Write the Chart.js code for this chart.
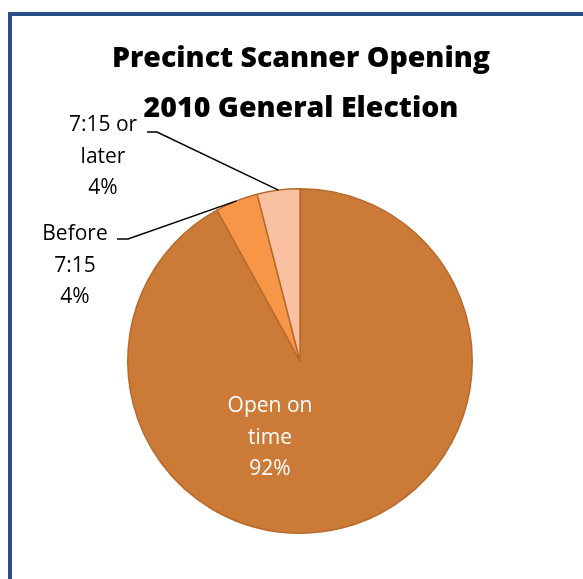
<!DOCTYPE html>
<html>
<head>
<meta charset="utf-8">
<title>Precinct Scanner Opening</title>
<script src="https://cdn.jsdelivr.net/npm/chart.js@4"></script>
<style>
  html, body { margin: 0; padding: 0; background: #fff; overflow: hidden; }
  #wrap { width: 583px; height: 579px; }
</style>
</head>
<body>
<div id="wrap"><canvas id="openingChart" width="583" height="579"></canvas></div>
<script>
// opening times of precinct scanners, share of precincts
const categories = ["Open on time", "Before 7:15", "7:15 or later"];
const shares = [92, 4, 4];
const wrappedNames = [["Open on", "time"], ["Before", "7:15"], ["7:15 or", "later"]];
const titleLines = ["Precinct Scanner Opening", "2010 General Election"];

const sliceColors = ["#CB7A38", "#F79646", "#F9C0A1"];

// where each label sits (first baseline) and the elbow of its leader line
const labelSpots = [
    { x: 270, y: 412, color: "#ffffff", leader: null },
    { x: 75, y: 240, color: "#000000", leader: { x1: 117, x2: 128, y: 239 } },
    { x: 103, y: 131, color: "#000000", leader: { x1: 147, x2: 157, y: 132 } }
];

const frameAndText = {
    id: "frameAndText",
    beforeDraw(chart) {
        const ctx = chart.ctx;
        ctx.save();
        ctx.fillStyle = "#ffffff";
        ctx.fillRect(0, 0, chart.width, chart.height);
        ctx.strokeStyle = "#2B4F8A";
        ctx.lineWidth = 4;
        ctx.strokeRect(10, 14, 800, 800);
        ctx.restore();
    },
    afterDraw(chart) {
        const ctx = chart.ctx;
        const arcs = chart.getDatasetMeta(0).data;
        const total = shares.reduce((a, b) => a + b, 0);
        ctx.save();

        // title
        ctx.fillStyle = "#000000";
        ctx.textAlign = "center";
        ctx.textBaseline = "alphabetic";
        ctx.font = "800 28.5px 'Open Sans'";
        ctx.fillText(titleLines[0], 301, 67);
        ctx.fillText(titleLines[1], 301, 117);

        // leader lines
        ctx.strokeStyle = "#000000";
        ctx.lineWidth = 1.5;
        labelSpots.forEach((spot, i) => {
            if (!spot.leader) return;
            const arc = arcs[i];
            const mid = (arc.startAngle + arc.endAngle) / 2;
            const ex = arc.x + Math.cos(mid) * arc.outerRadius;
            const ey = arc.y + Math.sin(mid) * arc.outerRadius;
            ctx.beginPath();
            ctx.moveTo(spot.leader.x1, spot.leader.y);
            ctx.lineTo(spot.leader.x2, spot.leader.y);
            ctx.lineTo(ex, ey);
            ctx.stroke();
        });

        // data labels
        ctx.font = "21px 'Open Sans'";
        labelSpots.forEach((spot, i) => {
            const lines = wrappedNames[i].concat([Math.round(shares[i] / total * 100) + "%"]);
            ctx.fillStyle = spot.color;
            lines.forEach((line, k) => {
                ctx.fillText(line, spot.x, spot.y + k * 31.5);
            });
        });
        ctx.restore();
    }
};

new Chart(document.getElementById("openingChart"), {
    type: "pie",
    data: {
        labels: categories,
        datasets: [{
            data: shares,
            backgroundColor: sliceColors,
            borderColor: "#B86A2C",
            borderWidth: 1.5
        }]
    },
    options: {
        responsive: false,
        animation: false,
        layout: { padding: { left: 127, right: 110, top: 188, bottom: 45 } },
        plugins: {
            legend: { display: false },
            tooltip: { enabled: false },
            title: { display: false }
        }
    },
    plugins: [frameAndText]
});
</script>
</body>
</html>
